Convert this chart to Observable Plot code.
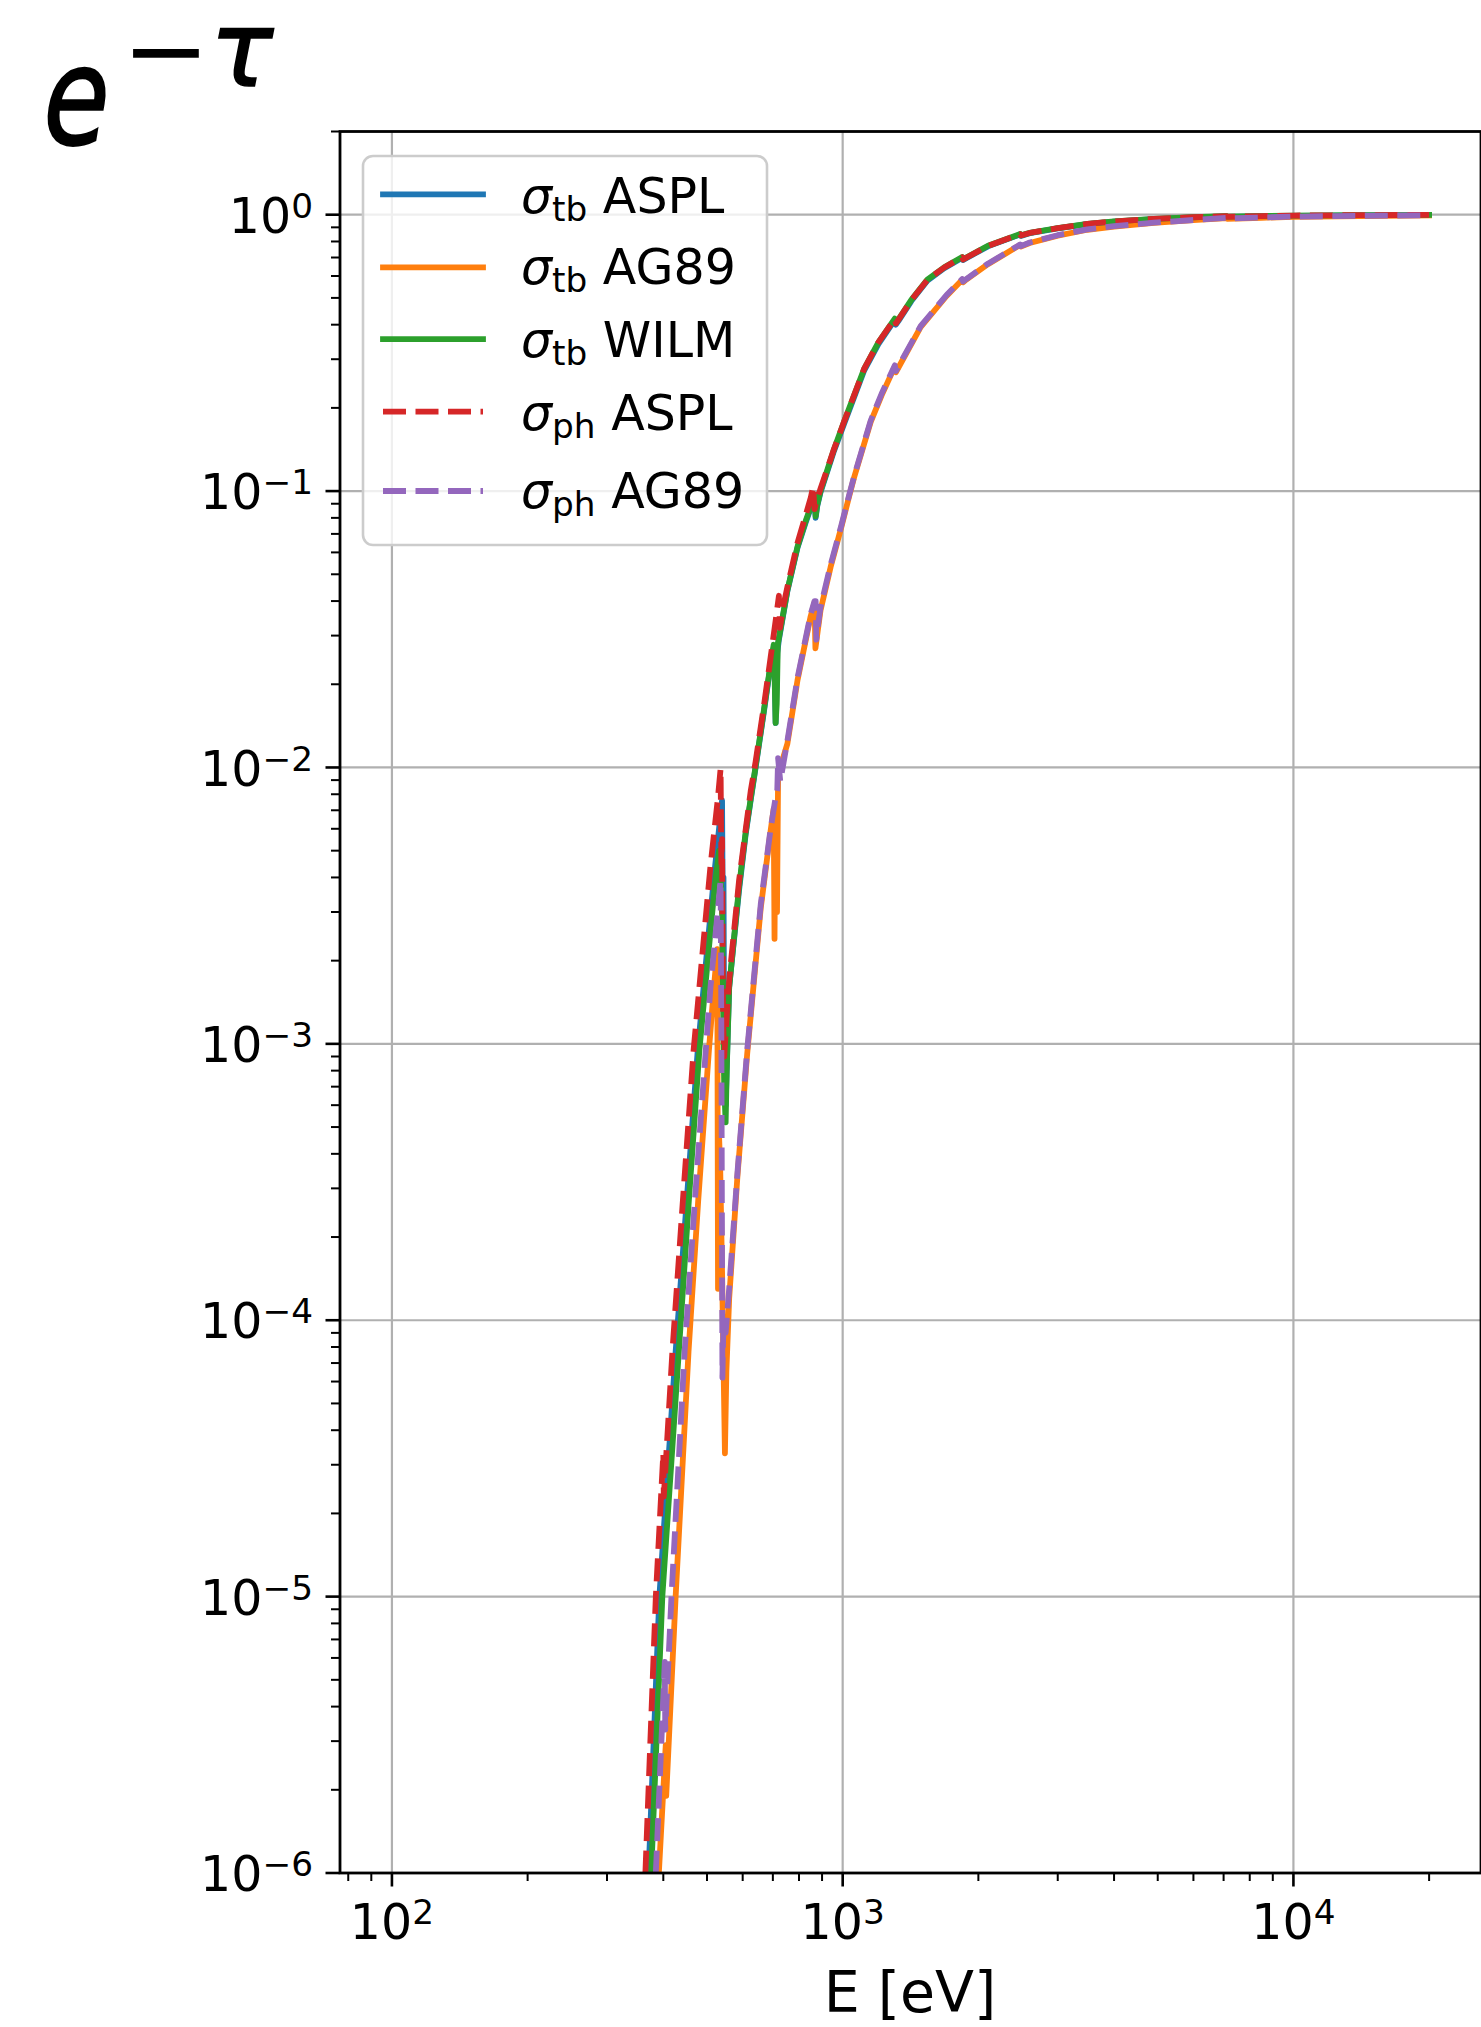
<!DOCTYPE html>
<html>
<head>
<meta charset="utf-8">
<script src="https://cdn.jsdelivr.net/npm/d3@7"></script>
<script src="https://cdn.jsdelivr.net/npm/@observablehq/plot@0.6"></script>
<style>
  html, body { margin: 0; padding: 0; background: #ffffff; }
  #chart { width: 1481px; height: 2027px; }
</style>
</head>
<body>
<div id="chart"></div>
<script>
// ---------------- data ----------------
const seriesKeys   = ["tbASPL", "tbAG89", "tbWILM", "phASPL", "phAG89"];
const seriesSub    = ["tb", "tb", "tb", "ph", "ph"];
const seriesName   = ["ASPL", "AG89", "WILM", "ASPL", "AG89"];

// sigma_tb ASPL
const E_tbASPL = [345, 371, 392, 426, 450, 477, 518, 530, 540, 542, 544, 546, 550, 556, 560, 589, 609, 625, 641, 669, 692, 703, 706, 710, 716, 722, 754, 794, 830, 850, 866, 871, 878, 893, 957, 1007, 1115, 1200, 1305, 1312, 1330, 1420, 1541, 1680, 1842, 1850, 1880, 2100, 2475, 2485, 2600, 3000, 3490, 4000, 4900, 6000, 7110, 7125, 8500, 10000, 14000, 20000];
const T_tbASPL = [1.5e-7, 1e-6, 1e-5, 7.7e-5, 2.6e-4, 9.5e-4, 0.0040, 0.0057, 0.0076, 0.0030, 0.0040, 0.0009, 0.0006, 0.0011, 0.0016, 0.0036, 0.0057, 0.0076, 0.0100, 0.0160, 0.0235, 0.0270, 0.0240, 0.0145, 0.0260, 0.0290, 0.0435, 0.0624, 0.078, 0.087, 0.095, 0.080, 0.088, 0.099, 0.140, 0.175, 0.272, 0.340, 0.416, 0.400, 0.413, 0.487, 0.577, 0.640, 0.699, 0.685, 0.696, 0.768, 0.848, 0.838, 0.857, 0.892, 0.924, 0.944, 0.964, 0.977, 0.986, 0.981, 0.987, 0.991, 0.995, 0.998];

// sigma_tb AG89
const E_tbAG89 = [365, 391, 405, 406, 426, 455, 478, 505, 518, 527, 529, 531, 535, 540, 548, 552, 560, 584, 614, 658, 692, 703, 706, 709, 715, 719, 754, 794, 849, 866, 870, 880, 893, 940, 993, 1034, 1060, 1154, 1220, 1305, 1312, 1330, 1489, 1700, 1842, 1850, 1880, 2100, 2475, 2485, 2600, 3000, 3490, 4000, 4900, 6000, 7110, 7125, 8500, 10000, 14000, 20000];
const T_tbAG89 = [1.5e-7, 1e-6, 2.9e-6, 1.9e-6, 1e-5, 7.7e-5, 2.7e-4, 9.5e-4, 0.0016, 0.0022, 1.3e-4, 5e-4, 3.5e-4, 1.5e-4, 3.3e-5, 6.5e-5, 1.2e-4, 3.3e-4, 9.2e-4, 0.0031, 0.0059, 0.0071, 0.0024, 0.0068, 0.0030, 0.0094, 0.0122, 0.0207, 0.0352, 0.0395, 0.027, 0.031, 0.037, 0.053, 0.074, 0.096, 0.112, 0.178, 0.222, 0.282, 0.269, 0.280, 0.392, 0.508, 0.582, 0.569, 0.582, 0.662, 0.777, 0.767, 0.790, 0.840, 0.882, 0.906, 0.934, 0.955, 0.972, 0.967, 0.975, 0.982, 0.989, 0.994];

// sigma_tb WILM
const E_tbWILM = [350, 376, 398, 433, 455, 481, 520, 532, 536, 540, 543, 546, 550, 553, 560, 589, 609, 625, 641, 669, 692, 703, 706, 710, 714, 718, 754, 794, 830, 850, 866, 871, 878, 893, 957, 1007, 1115, 1200, 1305, 1312, 1330, 1420, 1541, 1680, 1842, 1850, 1880, 2100, 2475, 2485, 2600, 3000, 3490, 4000, 4900, 6000, 7110, 7125, 8500, 10000, 14000, 20000];
const T_tbWILM = [1.5e-7, 1e-6, 1e-5, 7.7e-5, 2.6e-4, 9.5e-4, 0.0037, 0.0050, 0.0042, 0.0030, 0.0014, 0.0007, 0.00052, 0.0008, 0.0016, 0.0037, 0.0058, 0.0077, 0.0101, 0.0162, 0.0238, 0.0278, 0.0220, 0.0145, 0.0170, 0.0280, 0.0438, 0.0630, 0.079, 0.088, 0.096, 0.081, 0.089, 0.100, 0.142, 0.178, 0.276, 0.345, 0.421, 0.405, 0.418, 0.492, 0.582, 0.645, 0.703, 0.690, 0.700, 0.772, 0.851, 0.842, 0.860, 0.895, 0.927, 0.946, 0.966, 0.979, 0.988, 0.984, 0.989, 0.993, 0.996, 0.999];

// sigma_ph ASPL
const E_phASPL = [340, 365, 385, 400, 401, 419, 442, 467, 509, 528, 536, 538, 540, 543, 546, 552, 560, 589, 625, 641, 669, 692, 710, 722, 726, 735, 754, 794, 830, 850, 860, 866, 875, 893, 957, 1007, 1115, 1200, 1305, 1312, 1330, 1420, 1541, 1680, 1842, 1850, 1880, 2100, 2475, 2485, 2600, 3000, 3490, 4000, 4900, 6000, 7110, 7125, 8500, 10000, 14000, 20000];
const T_phASPL = [1.5e-7, 1e-6, 1e-5, 3.3e-5, 2.3e-5, 7.7e-5, 2.7e-4, 9.5e-4, 0.0044, 0.0076, 0.0099, 0.0045, 0.0055, 0.0012, 0.0009, 0.0012, 0.0017, 0.0039, 0.0082, 0.0105, 0.0168, 0.0250, 0.0340, 0.0418, 0.0320, 0.0370, 0.0450, 0.0650, 0.083, 0.095, 0.104, 0.086, 0.092, 0.102, 0.142, 0.178, 0.276, 0.345, 0.420, 0.404, 0.417, 0.491, 0.581, 0.644, 0.702, 0.689, 0.699, 0.771, 0.850, 0.841, 0.859, 0.894, 0.926, 0.946, 0.966, 0.979, 0.988, 0.983, 0.989, 0.993, 0.996, 0.999];

// sigma_ph AG89
const E_phAG89 = [360, 385, 403, 404, 417, 446, 470, 497, 509, 528, 536, 538, 541, 544, 550, 560, 584, 614, 658, 692, 710, 716, 719, 727, 754, 794, 849, 866, 871, 874, 880, 893, 940, 993, 1034, 1060, 1154, 1220, 1305, 1312, 1330, 1489, 1700, 1842, 1850, 1880, 2100, 2475, 2485, 2600, 3000, 3490, 4000, 4900, 6000, 7110, 7125, 8500, 10000, 14000, 20000];
const T_phAG89 = [1.5e-7, 1e-6, 5.8e-6, 3.3e-6, 1e-5, 7.7e-5, 2.7e-4, 9.5e-4, 0.0016, 0.0030, 0.0039, 0.0012, 6.2e-5, 1.0e-4, 9e-5, 1.3e-4, 3.4e-4, 9.5e-4, 0.0032, 0.0060, 0.0078, 0.0083, 0.0108, 0.0089, 0.0125, 0.0211, 0.0358, 0.0400, 0.0400, 0.0290, 0.032, 0.038, 0.054, 0.075, 0.097, 0.113, 0.180, 0.225, 0.285, 0.272, 0.283, 0.395, 0.512, 0.585, 0.573, 0.585, 0.665, 0.780, 0.770, 0.793, 0.843, 0.885, 0.909, 0.936, 0.957, 0.974, 0.969, 0.977, 0.984, 0.991, 0.995];

// axes
const xLimits = [76.7, 26070];
const yLimits = [1e-6, 2];
const xMajorTicks = [100, 1000, 10000];
const xMajorLabels = ["2", "3", "4"];
const yMajorTicks = [1e-6, 1e-5, 1e-4, 1e-3, 1e-2, 1e-1, 1];
const yMajorLabels = ["\u22126", "\u22125", "\u22124", "\u22123", "\u22122", "\u22121", "0"];
const xLabelText = "E [eV]";

// ---------------- styling ----------------
const colors = ["#1f77b4", "#ff7f0e", "#2ca02c", "#d62728", "#9467bd"];
const dashed = [false, false, false, true, true];
const LW = 5.8, DASH = "23,9.5";
const gridColor = "#b0b0b0";

const dataE = [E_tbASPL, E_tbAG89, E_tbWILM, E_phASPL, E_phAG89];
const dataT = [T_tbASPL, T_tbAG89, T_tbWILM, T_phASPL, T_phAG89];
const tables = dataE.map((E, k) => E.map((e, i) => ({E: e, T: dataT[k][i], key: seriesKeys[k]})));

// minor ticks (axis decoration)
const xMinorTicks = [];
for (const dec of [10, 100, 1000, 10000]) for (let m = 2; m <= 9; m++) {
  const v = m * dec; if (v > xLimits[0] && v < xLimits[1]) xMinorTicks.push(v);
}
const yMinorTicks = [];
for (let p = -6; p <= 0; p++) for (let m = 2; m <= 9; m++) {
  const v = m * Math.pow(10, p); if (v <= yLimits[1] * 1.0001) yMinorTicks.push(v);
}

const xFmt = d => "10^" + xMajorLabels[xMajorTicks.indexOf(d)];
const yFmt = d => "10^" + yMajorLabels[yMajorTicks.indexOf(d)];

const lineMarks = tables.map((tab, k) => Plot.line(tab, {
  x: "E", y: "T",
  stroke: colors[k],
  strokeWidth: LW,
  strokeDasharray: dashed[k] ? DASH : undefined,
  strokeLinecap: dashed[k] ? "butt" : "square",
  strokeLinejoin: "round",
  clip: true
}));

const svgEl = Plot.plot({
  width: 1481,
  height: 2027,
  marginLeft: 339.5,
  marginRight: 0.5,
  marginTop: 131,
  marginBottom: 154.5,
  style: {fontFamily: "'DejaVu Sans', sans-serif", fontSize: "49px", color: "black", background: "white", overflow: "visible"},
  x: {type: "log", domain: xLimits},
  y: {type: "log", domain: yLimits},
  marks: [
    Plot.gridX(xMajorTicks, {stroke: gridColor, strokeOpacity: 1, strokeWidth: 2.2}),
    Plot.gridY(yMajorTicks, {stroke: gridColor, strokeOpacity: 1, strokeWidth: 2.2}),
    ...lineMarks,
    Plot.frame({stroke: "black", strokeWidth: 2.8}),
    Plot.axisX(xMinorTicks, {tickSize: 8.5, strokeWidth: 2, tickFormat: () => "", label: null}),
    Plot.axisX(xMajorTicks, {tickSize: 14, tickPadding: 17.5, strokeWidth: 2.6, tickFormat: xFmt, fontSize: 49, label: null}),
    Plot.axisY(yMinorTicks, {tickSize: 8.5, strokeWidth: 2, tickFormat: () => "", label: null}),
    Plot.axisY(yMajorTicks, {tickSize: 14, tickPadding: 13, strokeWidth: 2.6, tickFormat: yFmt, fontSize: 49, label: null})
  ]
});

document.getElementById("chart").appendChild(svgEl);
const s = d3.select(svgEl);

// superscript exponents in tick labels
s.selectAll('g[aria-label="x-axis tick label"] text, g[aria-label="y-axis tick label"] text').each(function () {
  const m = /^10\^(.+)$/.exec(this.textContent);
  if (!m) return;
  this.textContent = "";
  const t = d3.select(this);
  t.append("tspan").text("10");
  t.append("tspan").style("font-size", "34.3px").attr("dy", -15).text(m[1]);
});
s.selectAll('g[aria-label="y-axis tick label"] text').attr("y", "0.37em");

// x label
s.append("text")
  .attr("x", 910).attr("y", 2012)
  .attr("text-anchor", "middle")
  .style("font-size", "57px")
  .attr("fill", "black")
  .text(xLabelText);

// title  e^{-tau}
s.append("text")
  .attr("text-anchor", "start")
  .attr("transform", "translate(37.5,143.5) scale(0.78,1) skewX(-12)")
  .style("font-size", "136px")
  .attr("fill", "black").attr("stroke", "black").attr("stroke-width", 2.2)
  .text("e");
const sup = s.append("text").attr("text-anchor", "start").attr("x", 122).attr("y", 86)
  .style("font-size", "105px").attr("fill", "black");
sup.append("tspan").text("\u2212");
sup.append("tspan").style("font-style", "italic").attr("stroke", "black").attr("stroke-width", 1.6).text("\u03c4");

// legend
const lg = s.append("g").attr("aria-label", "legend").attr("text-anchor", "start");
lg.append("rect")
  .attr("x", 363).attr("y", 156).attr("width", 404).attr("height", 389)
  .attr("rx", 10).attr("ry", 10)
  .attr("fill", "white").attr("fill-opacity", 0.8)
  .attr("stroke", "#cccccc").attr("stroke-width", 2.6);
const rowLineY = [194.3, 267.3, 339.2, 411.7, 491];
const rowBase  = [212.7, 284.2, 356.7, 430, 508];
seriesKeys.forEach((k, i) => {
  lg.append("line")
    .attr("x1", 383).attr("x2", 483)
    .attr("y1", rowLineY[i]).attr("y2", rowLineY[i])
    .attr("stroke", colors[i]).attr("stroke-width", LW)
    .attr("stroke-linecap", dashed[i] ? "butt" : "square")
    .attr("stroke-dasharray", dashed[i] ? DASH : null);
  const t = lg.append("text").attr("text-anchor", "start").attr("x", 521).attr("y", rowBase[i]).style("font-size", "49px").attr("fill", "black");
  t.append("tspan").style("font-style", "italic").text("\u03c3");
  t.append("tspan").style("font-size", "34.3px").attr("dy", 8).text(seriesSub[i]);
  t.append("tspan").attr("dy", -8).text("\u00a0" + seriesName[i]);
});
</script>
</body>
</html>
